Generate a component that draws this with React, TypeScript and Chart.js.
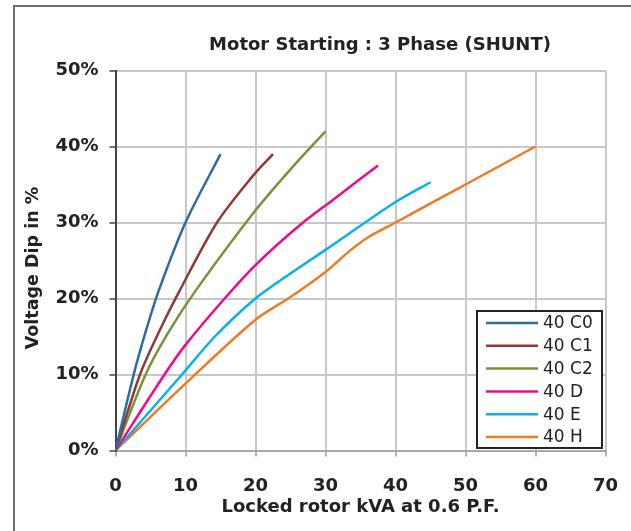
import React, { useEffect, useRef } from "react";
import { Chart, registerables } from "chart.js";

Chart.register(...registerables);

const chartTitle = "Motor Starting : 3 Phase (SHUNT)";
const xAxisTitle = "Locked rotor kVA at 0.6 P.F.";
const yAxisTitle = "Voltage Dip in %";

const seriesLabels = ["40 C0", "40 C1", "40 C2", "40 D", "40 E", "40 H"];
const seriesColors = ["#2f6ba3", "#8e3a36", "#76933c", "#ec0b8c", "#07b1ee", "#f07a22"];

const c0X = [0, 2.6, 4.3, 6.2, 10, 15];
const c0Y = [0, 10, 15.6, 21.1, 30, 39];
const c1X = [0, 3.5, 6.2, 9.2, 14.5, 19.5, 22.5];
const c1Y = [0, 10, 15.6, 21.1, 30, 36, 39];
const c2X = [0, 4.3, 7.6, 11.5, 20, 25, 30];
const c2Y = [0, 10, 15.6, 21.1, 31.6, 37, 42];
const dX = [0, 7, 10, 15.4, 20, 26.4, 31.1, 37.5];
const dY = [0, 10, 13.9, 19.8, 24.4, 29.7, 33, 37.5];
const eX = [0, 9.5, 14.2, 20, 25, 30, 40, 45];
const eY = [0, 10, 15, 20, 23.3, 26.4, 32.7, 35.3];
const hX = [0, 10, 20, 25, 30, 33.5, 36, 40, 46, 50, 60];
const hY = [0, 8.8, 17.2, 20.2, 23.5, 26.3, 28, 30, 33, 35, 40];

const seriesX = [c0X, c1X, c2X, dX, eX, hX];
const seriesY = [c0Y, c1Y, c2Y, dY, eY, hY];

const FONT = "'DejaVu Sans', sans-serif";

const decorPlugin = {
  id: "decor",
  beforeDraw(chart: any) {
    const ctx = chart.ctx;
    ctx.save();
    ctx.fillStyle = "#ffffff";
    ctx.fillRect(0, 0, chart.width, chart.height);
    ctx.strokeStyle = "#707070";
    ctx.lineWidth = 2;
    ctx.beginPath();
    ctx.moveTo(14, chart.height);
    ctx.lineTo(14, 6);
    ctx.lineTo(chart.width, 6);
    ctx.stroke();
    ctx.restore();
  },
  afterDraw(chart: any) {
    const ctx = chart.ctx;
    ctx.save();
    ctx.fillStyle = "#222222";
    ctx.font = `bold 18px ${FONT}`;
    ctx.textAlign = "center";
    ctx.textBaseline = "middle";
    ctx.fillText(chartTitle, 380, 45);
    ctx.save();
    ctx.translate(33, 268);
    ctx.rotate(-Math.PI / 2);
    ctx.font = `bold 17.5px ${FONT}`;
    ctx.fillText(yAxisTitle, 0, 0);
    ctx.restore();
    const lx = 477, ly = 311, lw = 125, lh = 137;
    ctx.fillStyle = "#ffffff";
    ctx.fillRect(lx, ly, lw, lh);
    ctx.strokeStyle = "#222222";
    ctx.lineWidth = 2;
    ctx.strokeRect(lx, ly, lw, lh);
    ctx.font = `17px ${FONT}`;
    ctx.textAlign = "left";
    ctx.textBaseline = "middle";
    seriesLabels.forEach((lab, i) => {
      const y = ly + 12 + i * 22.8;
      ctx.strokeStyle = seriesColors[i];
      ctx.lineWidth = 2.5;
      ctx.beginPath();
      ctx.moveTo(486, y);
      ctx.lineTo(538, y);
      ctx.stroke();
      ctx.fillStyle = "#222222";
      ctx.fillText(lab, 543, y + 1);
    });
    ctx.restore();
  },
};

export default function App() {
  const ref = useRef<HTMLCanvasElement | null>(null);
  useEffect(() => {
    if (!ref.current) return;
    const datasets = seriesLabels.map((label, i) => ({
      label,
      data: seriesX[i].map((x, j) => ({ x, y: seriesY[i][j] })),
      borderColor: seriesColors[i],
      backgroundColor: seriesColors[i],
      borderWidth: 2.5,
      pointRadius: 0,
      showLine: true,
      fill: false,
      tension: 0.3,
    }));
    const chart = new Chart(ref.current, {
      type: "scatter",
      data: { datasets },
      plugins: [decorPlugin],
      options: {
        responsive: false,
        animation: false,
        layout: { padding: { left: 0, top: 70.5, right: 25.5, bottom: 0 } },
        plugins: {
          legend: { display: false },
          title: { display: false },
          tooltip: { enabled: false },
        },
        scales: {
          x: {
            type: "linear",
            min: 0,
            max: 70,
            afterFit: (s: any) => {
              s.height = 80.5;
            },
            ticks: {
              stepSize: 10,
              padding: 3,
              color: "#222222",
              font: { family: FONT, size: 18, weight: "bold", lineHeight: 3 },
            },
            grid: {
              color: "#c8c8c8",
              lineWidth: 2,
              tickLength: 6,
              tickColor: "#9a9a9a",
              tickWidth: 1.5,
            },
            border: { color: "#a8a8a8", width: 2 },
            title: {
              display: true,
              text: xAxisTitle,
              color: "#222222",
              font: { family: FONT, size: 18, weight: "bold" },
              padding: { top: 0, bottom: 13 },
            },
          },
          y: {
            type: "linear",
            min: 0,
            max: 50,
            afterFit: (s: any) => {
              s.width = 115.5;
            },
            ticks: {
              stepSize: 10,
              padding: 11,
              color: "#222222",
              font: { family: FONT, size: 18, weight: "bold" },
              callback: (v: any) => `${v}%`,
            },
            grid: {
              color: "#c8c8c8",
              lineWidth: 2,
              tickLength: 6,
              tickColor: "#444444",
              tickWidth: 1.5,
            },
            border: { color: "#444444", width: 2 },
          },
        },
      },
    });
    return () => chart.destroy();
  }, []);
  return (
    <div style={{ position: "fixed", left: 0, top: 0, width: 631, height: 531, background: "#fff" }}>
      <canvas ref={ref} width={631} height={531} style={{ display: "block" }} />
    </div>
  );
}
